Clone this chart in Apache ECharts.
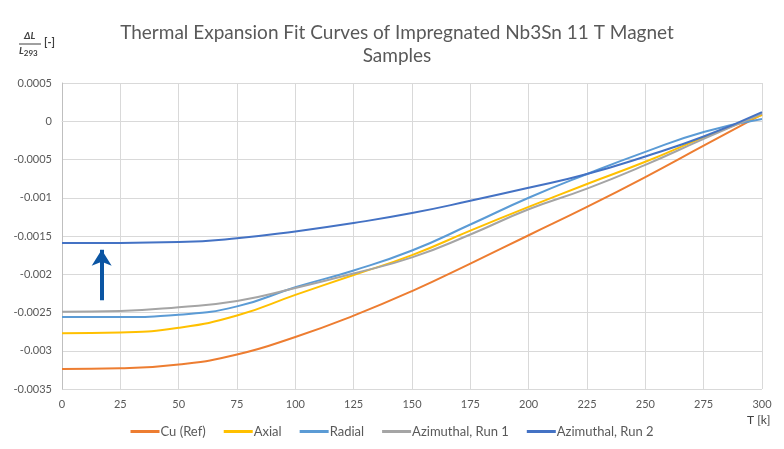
<!DOCTYPE html>
<html>
<head>
<meta charset="utf-8">
<title>Thermal Expansion Fit Curves</title>
<script src="https://cdn.jsdelivr.net/npm/echarts@6/dist/echarts.min.js"></script>
<style>
  html, body { margin: 0; padding: 0; background: #fff; }
  #chart { width: 784px; height: 449px; }
</style>
</head>
<body>
<div id="chart"></div>
<script>
// Temperature grid [K]
const temps = [0, 25, 50, 75, 100, 125, 150, 175, 200, 225, 250, 275, 300];

// Relative thermal contraction ΔL/L293 [-] per sample
const cuRef   = [-0.00324, -0.00323, -0.00318, -0.00305, -0.00282, -0.00254, -0.00222, -0.00186, -0.00149, -0.00112, -0.00073, -0.00032, 0.00009];
const axial   = [-0.00277, -0.00276, -0.00270, -0.00254, -0.00227, -0.00201, -0.00175, -0.00143, -0.00112, -0.00082, -0.00053, -0.00021, 0.00008];
const radial  = [-0.00256, -0.00256, -0.00253, -0.00242, -0.00217, -0.00195, -0.00169, -0.00135, -0.00100, -0.00069, -0.00040, -0.00014, 0.00003];
const azRun1  = [-0.00249, -0.00248, -0.00243, -0.00235, -0.00218, -0.00199, -0.00178, -0.00148, -0.00115, -0.00088, -0.00057, -0.00023, 0.00010];
const azRun2  = [-0.00159, -0.00159, -0.00158, -0.00153, -0.00144, -0.00133, -0.00120, -0.00104, -0.00087, -0.00069, -0.00046, -0.00020, 0.00012];

const seriesNames = ['Cu (Ref)', 'Axial', 'Radial', 'Azimuthal, Run 1', 'Azimuthal, Run 2'];
const seriesColors = ['#ED7D31', '#FFC000', '#5B9BD5', '#A5A5A5', '#4472C4'];
const seriesValues = [cuRef, axial, radial, azRun1, azRun2];

// Arrow annotation (data coordinates: T, ΔL/L)
const arrowFrom = [17, -0.00234];
const arrowTo   = [17, -0.00168];

const chart = echarts.init(document.getElementById('chart'), null, { renderer: 'canvas' });

const series = seriesValues.map((vals, i) => ({
  name: seriesNames[i],
  type: 'line',
  data: temps.map((t, k) => [t, vals[k]]),
  smooth: 0.5,
  symbol: 'none',
  lineStyle: { width: 2, color: seriesColors[i] },
  itemStyle: { color: seriesColors[i] },
  z: 3 + i
}));

// Upward arrow drawn as a mark line on the last series
series[4].markLine = {
  silent: true,
  symbol: ['none', 'arrow'],
  symbolSize: [15, 16],
  label: { show: false },
  lineStyle: { color: '#0B55A3', width: 4, type: 'solid' },
  data: [[{ coord: arrowFrom }, { coord: arrowTo }]]
};

const fontFam = 'Lato, "Open Sans", sans-serif';

chart.setOption({
  backgroundColor: '#ffffff',
  animation: false,
  title: {
    text: 'Thermal Expansion Fit Curves of Impregnated Nb3Sn 11 T Magnet\nSamples',
    left: 392,
    textAlign: 'center',
    top: 16,
    textStyle: { fontFamily: fontFam, fontSize: 19, fontWeight: 'normal', color: '#595959', lineHeight: 23 }
  },
  legend: {
    data: seriesNames,
    left: 'center',
    bottom: 6,
    itemWidth: 29,
    itemHeight: 3,
    itemGap: 18,
    icon: 'rect',
    textStyle: { fontFamily: fontFam, fontSize: 13, color: '#595959', padding: [0, 0, 0, -4] }
  },
  grid: { left: 62, right: 22, top: 83, bottom: 60, containLabel: false },
  xAxis: {
    type: 'value',
    min: 0,
    max: 300,
    interval: 25,
    axisLine: { show: true, lineStyle: { color: '#D9D9D9' } },
    axisTick: { show: false },
    splitLine: { show: true, lineStyle: { color: '#D9D9D9', width: 1 } },
    axisLabel: { fontFamily: fontFam, fontSize: 11, color: '#595959', margin: 10 }
  },
  yAxis: {
    type: 'value',
    min: -0.0035,
    max: 0.0005,
    interval: 0.0005,
    axisLine: { show: true, lineStyle: { color: '#BFBFBF' } },
    axisTick: { show: false },
    splitLine: { show: true, lineStyle: { color: '#D9D9D9', width: 1 } },
    axisLabel: {
      fontFamily: fontFam, fontSize: 11, color: '#595959', margin: 10,
      formatter: v => String(parseFloat(v.toFixed(4)))
    }
  },
  graphic: [
    // Y-axis quantity: ΔL / L293 [-]
    { type: 'text', left: 24, top: 31, style: { text: 'ΔL', font: 'italic bold 10px ' + fontFam, fill: '#404040' } },
    { type: 'line', shape: { x1: 19, y1: 44, x2: 41, y2: 44 }, style: { stroke: '#404040', lineWidth: 1 } },
    { type: 'text', left: 19, top: 46, style: { text: '{l|L}{s|293}', rich: {
        l: { font: 'italic bold 10px ' + fontFam, fill: '#404040' },
        s: { font: 'bold 8px ' + fontFam, fill: '#404040', padding: [5, 0, 0, 0] }
      } } },
    { type: 'text', left: 44, top: 37, style: { text: '[-]', font: 'bold 11px ' + fontFam, fill: '#404040' } },
    // X-axis quantity
    { type: 'text', left: 747, top: 414, style: { text: 'T [k]', font: '12px ' + fontFam, fill: '#404040' } }
  ],
  series: series
});
</script>
</body>
</html>
